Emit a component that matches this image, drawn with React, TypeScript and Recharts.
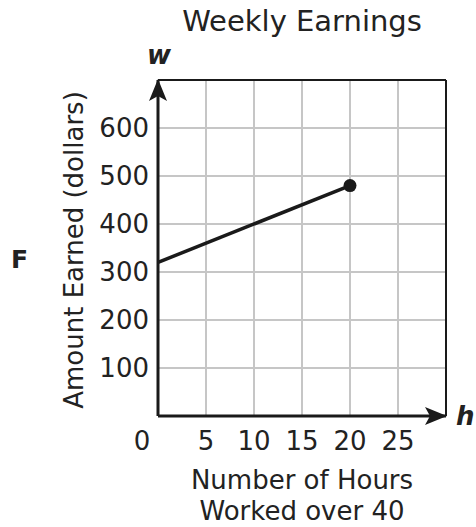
import React from "react";
import {
  LineChart,
  Line,
  XAxis,
  YAxis,
  CartesianGrid,
  ReferenceLine,
} from "recharts";

const hours = [0, 20];
const earned = [320, 480];
const xTicks = [0, 5, 10, 15, 20, 25];
const yTicks = [100, 200, 300, 400, 500, 600];
const xMax = 30;
const yMax = 700;

const data = hours.map((h, i) => ({ h, w: earned[i] }));

const FONT = "'DejaVu Sans', Verdana, sans-serif";
const INK = "#222";

function XTick({ x, y, payload }: any) {
  // the 0 label sits a bit left of the origin
  const shift = payload.value === 0 ? -16 : 0;
  return (
    <text x={x + shift} y={y + 34} textAnchor="middle" fontSize={26} fill={INK} fontFamily={FONT}>
      {payload.value}
    </text>
  );
}

function XLabel({ viewBox }: any) {
  const cx = viewBox.x + viewBox.width / 2;
  return (
    <text textAnchor="middle" fontSize={26} fill={INK} fontFamily={FONT}>
      <tspan x={cx} y={viewBox.y + 73}>Number of Hours</tspan>
      <tspan x={cx} y={viewBox.y + 104}>Worked over 40</tspan>
    </text>
  );
}

function YLabel({ viewBox }: any) {
  const bx = viewBox.x + 83;
  const cy = viewBox.y + viewBox.height / 2 + 2;
  return (
    <text
      x={bx}
      y={cy}
      transform={`rotate(-90 ${bx} ${cy})`}
      textAnchor="middle"
      fontSize={26}
      fill={INK}
      fontFamily={FONT}
    >
      Amount Earned (dollars)
    </text>
  );
}

function EndDot(props: any) {
  const { cx, cy, index } = props;
  if (index !== data.length - 1) return <g key={`d${index}`} />;
  return <circle key={`d${index}`} cx={cx} cy={cy} r={6.5} fill="#1a1a1a" />;
}

export default function App() {
  return (
    <div style={{ position: "absolute", left: 0, top: 0, width: 476, height: 527, background: "#fff" }}>
      <svg width={0} height={0} style={{ position: "absolute" }}>
        <defs>
          <marker
            id="arrowHead"
            viewBox="0 0 22 18"
            refX={21}
            refY={9}
            markerWidth={22}
            markerHeight={18}
            markerUnits="userSpaceOnUse"
            orient="auto-start-reverse"
          >
            <path d="M0,0 L22,9 L0,18 L5,9 Z" fill="#1a1a1a" />
          </marker>
        </defs>
      </svg>
      <LineChart width={476} height={527} data={data} margin={{ top: 80, right: 30, bottom: 0, left: 0 }}>
        <CartesianGrid stroke="#c6c6c6" strokeWidth={2} />
        <XAxis
          dataKey="h"
          type="number"
          domain={[0, xMax]}
          ticks={xTicks}
          interval={0}
          height={111}
          tickLine={false}
          tickSize={0}
          tickMargin={0}
          tick={<XTick />}
          axisLine={{ stroke: "#1a1a1a", strokeWidth: 3, markerEnd: "url(#arrowHead)" }}
          label={<XLabel />}
        />
        <YAxis
          type="number"
          domain={[0, yMax]}
          ticks={yTicks}
          interval={0}
          width={158}
          tickLine={false}
          tickSize={0}
          tickMargin={9}
          tick={{ fontSize: 26, fill: INK, fontFamily: FONT }}
          axisLine={{ stroke: "#1a1a1a", strokeWidth: 3, markerStart: "url(#arrowHead)" }}
          label={<YLabel />}
        />
        <ReferenceLine y={yMax} stroke="#1a1a1a" strokeWidth={2} />
        <ReferenceLine x={xMax} stroke="#1a1a1a" strokeWidth={2} />
        <Line
          type="linear"
          dataKey="w"
          stroke="#1a1a1a"
          strokeWidth={3.5}
          dot={EndDot}
          activeDot={false}
          isAnimationActive={false}
        />
      </LineChart>
      <svg width={476} height={527} style={{ position: "absolute", left: 0, top: 0, pointerEvents: "none" }}>
        <text x={302} y={31} textAnchor="middle" fontSize={29} fill={INK} fontFamily={FONT}>
          Weekly Earnings
        </text>
        <text x={11} y={268} fontSize={25} fontWeight="bold" fill={INK} fontFamily={FONT}>
          F
        </text>
        <text x={159} y={64} textAnchor="middle" fontSize={26} fontWeight="bold" fontStyle="italic" fill={INK} fontFamily={FONT}>
          w
        </text>
        <text x={456} y={425} fontSize={26} fontWeight="bold" fontStyle="italic" fill={INK} fontFamily={FONT}>
          h
        </text>
      </svg>
    </div>
  );
}
